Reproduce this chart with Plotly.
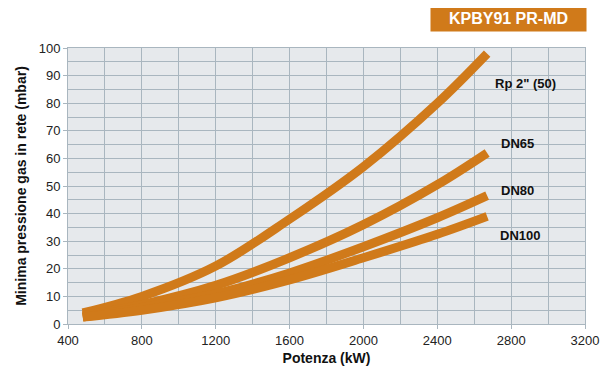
import plotly.graph_objects as go

potenza = [480, 800, 1200, 1600, 2000, 2400, 2670]
rp2 = [4, 10, 21, 38, 57, 80, 98]
dn65 = [3, 7, 14, 24, 36, 50.5, 62]
dn80 = [2.5, 6, 11, 18.5, 28, 38.5, 46.5]
dn100 = [2.5, 5, 9.5, 16, 24, 32.5, 39]

series = [("Rp 2\" (50)", rp2), ("DN65", dn65), ("DN80", dn80), ("DN100", dn100)]
label_pos = {"Rp 2\" (50)": (2880, 87), "DN65": (2835, 65.5), "DN80": (2835, 48.5), "DN100": (2850, 32)}

orange = "#d07a1a"
grid = "#a9b6bf"

fig = go.Figure()
for name, vals in series:
    fig.add_trace(go.Scatter(
        x=potenza, y=vals, mode="lines", name=name,
        line=dict(color=orange, width=9, shape="spline", smoothing=1.0),
    ))
    lx, ly = label_pos[name]
    fig.add_annotation(x=lx, y=ly, text=f"<b>{name}</b>", showarrow=False,
                       font=dict(size=13, color="#111111"))

fig.add_annotation(
    xref="paper", yref="paper", x=1.0, y=1.0, xanchor="right", yanchor="bottom",
    xshift=2, yshift=16,
    text="<b>KPBY91 PR-MD</b>", showarrow=False,
    bgcolor=orange, font=dict(size=16, color="white"),
    width=151, height=21, borderpad=2,
)

# page body has an 8px default margin, so margins are shifted to compensate
fig.update_layout(
    width=611, height=376,
    margin=dict(l=60, r=34, t=40, b=60),
    paper_bgcolor="white",
    plot_bgcolor="#e6e9ec",
    showlegend=False,
    font=dict(family="Liberation Sans, Arial, sans-serif", size=13, color="#222222"),
)
fig.update_xaxes(
    range=[400, 3200], tickmode="linear", tick0=400, dtick=400,
    showgrid=True, gridcolor=grid, gridwidth=1,
    minor=dict(dtick=200, showgrid=True, gridcolor=grid, gridwidth=1),
    ticks="outside", ticklen=4, tickcolor=grid, automargin=False,
    showline=True, linecolor=grid, mirror=True, zeroline=False,
    title=dict(text="<b>Potenza (kW)</b>", font=dict(size=14, color="#111111"), standoff=6),
)
fig.update_yaxes(
    range=[0, 100], tickmode="linear", tick0=0, dtick=10,
    showgrid=True, gridcolor=grid, gridwidth=1,
    minor=dict(dtick=5, showgrid=True, gridcolor=grid, gridwidth=1),
    ticks="outside", ticklen=4, tickcolor=grid, automargin=False,
    showline=True, linecolor=grid, mirror=True, zeroline=False,
    title=dict(text="<b>Minima pressione gas in rete (mbar)</b>", font=dict(size=14, color="#111111"), standoff=8),
)

fig.write_html("out.html")
